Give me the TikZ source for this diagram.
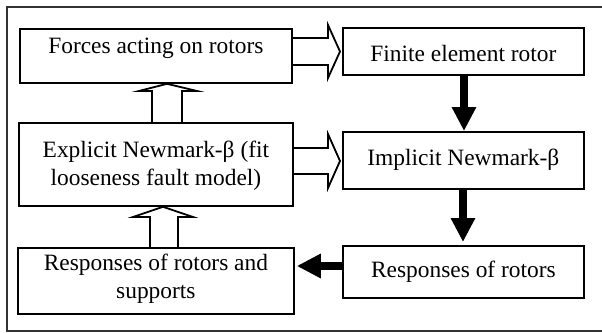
\documentclass[tikz,border=0pt]{standalone}
\usepackage{fontspec}
\setmainfont{Liberation Serif}
\usetikzlibrary{arrows.meta,calc}
\begin{document}
\begin{tikzpicture}[x=0.5pt,y=-0.5pt,
  box/.style={draw,line width=0.9pt,inner sep=0pt,anchor=north west},
  txt/.style={anchor=base,inner sep=0pt,font=\fontsize{11.7}{14}\selectfont},
  hollow/.style={draw,line width=0.9pt,line join=miter},
  blk/.style={line width=4pt,-{Triangle[length=12pt 0 0,width=11.5pt 0 0]}}]
\useasboundingbox (0,0) rectangle (602,333);
\draw[line width=0.8pt,draw=black!80] (604,7) -- (7,7) -- (7,331) -- (604,331);

\node[box,minimum width=136pt,minimum height=27pt] (b1) at (19,28) {};
\node[box,minimum width=120.5pt,minimum height=23.5pt] (b2) at (342,27) {};
\node[box,minimum width=137pt,minimum height=41.5pt] (b3) at (18,122) {};
\node[box,minimum width=120.5pt,minimum height=28.5pt] (b4) at (342,131) {};
\node[box,minimum width=120.5pt,minimum height=26pt] (b5) at (342,245) {};
\node[box,minimum width=138pt,minimum height=33pt] (b6) at (17,247) {};

\node[txt] (t1) at (b1.center |- 0,53) {Forces acting on rotors};
\node[txt] (t2) at (b2.center |- 0,61) {Finite element rotor};
\node[txt] (t3a) at (b3.center |- 0,157) {Explicit Newmark-β (fit};
\node[txt] (t3b) at (b3.center |- 0,185) {looseness fault model)};
\node[txt] (t4) at (b4.center |- 0,165) {Implicit Newmark-β};
\node[txt] (t5) at (b5.center |- 0,277) {Responses of rotors};
\node[txt] (t6a) at (b6.center |- 0,270) {Responses of rotors and};
\node[txt] (t6b) at (b6.center |- 0,298) {supports};

% hollow arrows
\draw[hollow] (b1.east |- 0,38) -- (328,38) -- (328,25) -- (340,51.5) -- (328,78) -- (328,65) -- (b1.east |- 0,65);
\draw[hollow] (b3.east |- 0,148) -- (328,148) -- (328,134) -- (340,161) -- (328,188) -- (328,174) -- (b3.east |- 0,174);
\draw[hollow] (152,0 |- b3.north) -- (152,91) -- (139,91) -- (167,0 |- b1.south) -- (197,91) -- (182,91) -- (182,0 |- b3.north);
\draw[hollow] (150,0 |- b6.north) -- (150,217) -- (133,217) -- (163,0 |- b3.south) -- (193,217) -- (178,217) -- (178,0 |- b6.north);

% black arrows
\draw[blk] (464,0 |- b2.south) -- (464,0 |- b4.north);
\draw[blk,shorten >=1.5pt] (463,0 |- b4.south) -- (463,0 |- b5.north);
\draw[blk,shorten >=1pt] (b5.west |- 0,266) -- (b6.east |- 0,266);
\end{tikzpicture}
\end{document}
